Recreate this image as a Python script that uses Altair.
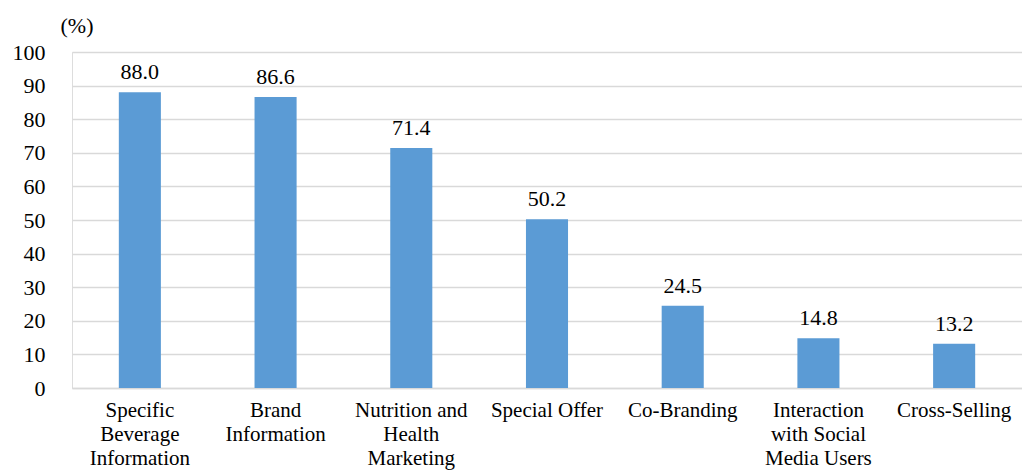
import altair as alt
import pandas as pd

categories = [
    "Specific\nBeverage\nInformation",
    "Brand\nInformation",
    "Nutrition and\nHealth\nMarketing",
    "Special Offer",
    "Co-Branding",
    "Interaction\nwith Social\nMedia Users",
    "Cross-Selling",
]
values = [88.0, 86.6, 71.4, 50.2, 24.5, 14.8, 13.2]
y_ticks = [0, 10, 20, 30, 40, 50, 60, 70, 80, 90, 100]

df = pd.DataFrame({"category": categories, "value": values})
df["label"] = df["value"].map(lambda v: f"{v:.1f}")

FONT = "Times New Roman, Liberation Serif, serif"

x = alt.X(
    "category:N",
    sort=categories,
    title=None,
    scale=alt.Scale(paddingInner=0.69, paddingOuter=0.345),
    axis=alt.Axis(
        labelAngle=0,
        labelExpr="split(datum.label, '\\n')",
        labelFont=FONT,
        labelFontSize=21,
        labelColor="#000000",
        labelLineHeight=24,
        labelPadding=11,
        ticks=False,
        domain=True,
        domainColor="#d9d9d9",
        domainWidth=1.5,
    ),
)

y = alt.Y(
    "value:Q",
    scale=alt.Scale(domain=[0, 100]),
    axis=alt.Axis(
        values=y_ticks,
        tickCount=len(y_ticks),
        labelOverlap=False,
        title="(%)",
        titleAngle=0,
        titleFont=FONT,
        titleFontSize=22,
        titleFontWeight="normal",
        titleColor="#000000",
        titleAlign="left",
        titleBaseline="middle",
        titleX=-12,
        titleY=-27,
        labelFont=FONT,
        labelFontSize=22,
        labelColor="#000000",
        labelPadding=27,
        ticks=False,
        domain=False,
        grid=True,
        gridColor="#d9d9d9",
        gridWidth=1.5,
    ),
)

bars = alt.Chart(df).mark_bar(color="#5b9bd5").encode(x=x, y=y)

texts = alt.Chart(df).mark_text(
    font=FONT, fontSize=22, color="#000000", baseline="alphabetic", dy=-13
).encode(x=x, y=y, text="label:N")

chart = (
    alt.layer(bars, texts)
    .properties(
        width=950,
        height=336,
        autosize=alt.AutoSizeParams(type="none"),
        padding={"left": 72, "top": 52, "right": 0, "bottom": 85},
    )
    .configure_view(stroke=None)
    .configure(background="#ffffff")
)

chart.save("out.html", embed_options={"renderer": "svg", "actions": False})
